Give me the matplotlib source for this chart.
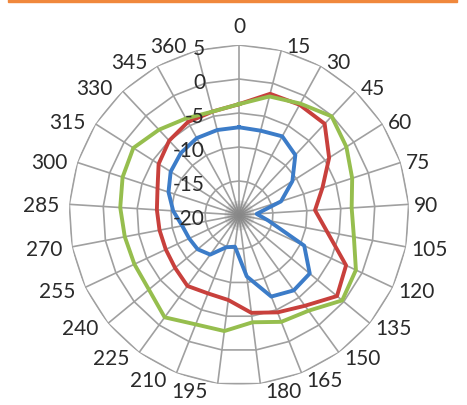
import numpy as np
import matplotlib.pyplot as plt
from matplotlib.patches import Rectangle

plt.rcParams['font.family'] = ['Lato', 'DejaVu Sans']

# =============================================================================
# Data
# =============================================================================

categories = ['0', '15', '30', '45', '60', '75', '90', '105', '120', '135',
              '150', '165', '180', '195', '210', '225', '240', '255', '270',
              '285', '300', '315', '330', '345', '360']
r_ticks = [5, 0, -5, -10, -15, -20]

blue_vals = [-7.1, -7.2, -6.8, -7.9, -10.7, -13.5, -17.4, -15.6, -9.4, -6.5,
             -6.3, -7.1, -10.9, -15.3, -14.9, -12.8, -12.1, -11.9, -11.5,
             -10.3, -9.1, -8.1, -7.5, -7.1, -7.1]
red_vals = [-3.7, -1.6, -1.5, -1.6, -4.3, -7.1, -8.8, -6.8, -2.6, -1.3,
            -3.5, -4.6, -5.5, -7.4, -7.6, -7.1, -7.8, -8.1, -8.1,
            -7.9, -7.4, -6.0, -5.0, -4.4, -4.3]
green_vals = [-3.7, -2.0, -1.3, -0.1, -1.3, -2.5, -3.4, -2.8, -1.0, -0.3,
              -2.6, -3.1, -4.1, -2.8, -2.7, -1.4, -2.8, -3.0, -2.9,
              -2.5, -2.0, -1.6, -2.8, -3.8, -4.3]

BLUE = '#3C7CC8'
RED = '#C8403C'
GREEN = '#96BE4E'
GRID = '#A0A0A0'
TEXT = '#2A2A2A'
PX = 0.72  # points per pixel at dpi 100
FS = 15

# =============================================================================
# Figure
# =============================================================================

fig = plt.figure(figsize=(4.67, 4.06), dpi=100)
fig.patch.set_facecolor('white')
fig.patches.append(Rectangle((8 / 467, 403 / 406), 449 / 467, 3 / 406,
                             transform=fig.transFigure, color='#F0883C'))

ax = fig.add_axes([69 / 467, 20 / 406, 340 / 467, 340 / 406], projection='polar')
ax.set_theta_zero_location('N')
ax.set_theta_direction(-1)
ax.set_ylim(r_ticks[-1], r_ticks[0])
ax.grid(False)
ax.set_xticks([])
ax.set_yticks([])
ax.spines['polar'].set_visible(False)
ax.patch.set_visible(False)

n = len(categories)
theta = np.linspace(0, 2 * np.pi, n, endpoint=False)
theta_closed = np.append(theta, 2 * np.pi)

# polygon rings and spokes, Excel style
for v in r_ticks[:-1]:
    ax.plot(theta_closed, [v] * (n + 1), color=GRID, lw=1.2, zorder=1)
for t in theta:
    ax.plot([t, t], [r_ticks[-1], r_ticks[0]], color=GRID, lw=1.2, zorder=1)

# spokes merge into a grey blur at the centre
for d in [30, 24, 18, 12, 6]:
    ax.scatter([0], [r_ticks[-1]], s=(d * PX) ** 2, color='#808080',
               alpha=0.22, lw=0, zorder=2)

# series (green drawn last, on top)
for vals, col in [(blue_vals, BLUE), (red_vals, RED), (green_vals, GREEN)]:
    ax.plot(theta_closed, vals + vals[:1], color=col, lw=2.8,
            solid_joinstyle='round', zorder=3)

# value axis labels, to the left of the 0 spoke
for v in r_ticks:
    ax.annotate(str(v), xy=(0, v), xytext=(-34 * PX, -3 * PX),
                textcoords='offset points', ha='right', va='center',
                fontsize=FS, color=TEXT, annotation_clip=False, zorder=4)

# category labels round the outside
for t, lab in zip(theta, categories):
    s, c = np.sin(t), np.cos(t)
    if abs(s) < 0.05:
        ax.annotate(lab, xy=(t, r_ticks[0]), xytext=(0, 9 * PX),
                    textcoords='offset points', ha='center', va='bottom',
                    fontsize=FS, color=TEXT, annotation_clip=False)
    else:
        dx = 5 if s > 0 else -10
        dy = -(3 - 6 * c) + 2
        ax.annotate(lab, xy=(t, r_ticks[0]), xytext=(dx * PX, dy * PX),
                    textcoords='offset points',
                    ha='left' if s > 0 else 'right', va='center',
                    fontsize=FS, color=TEXT, annotation_clip=False)

fig.savefig('out.png', dpi=100)
